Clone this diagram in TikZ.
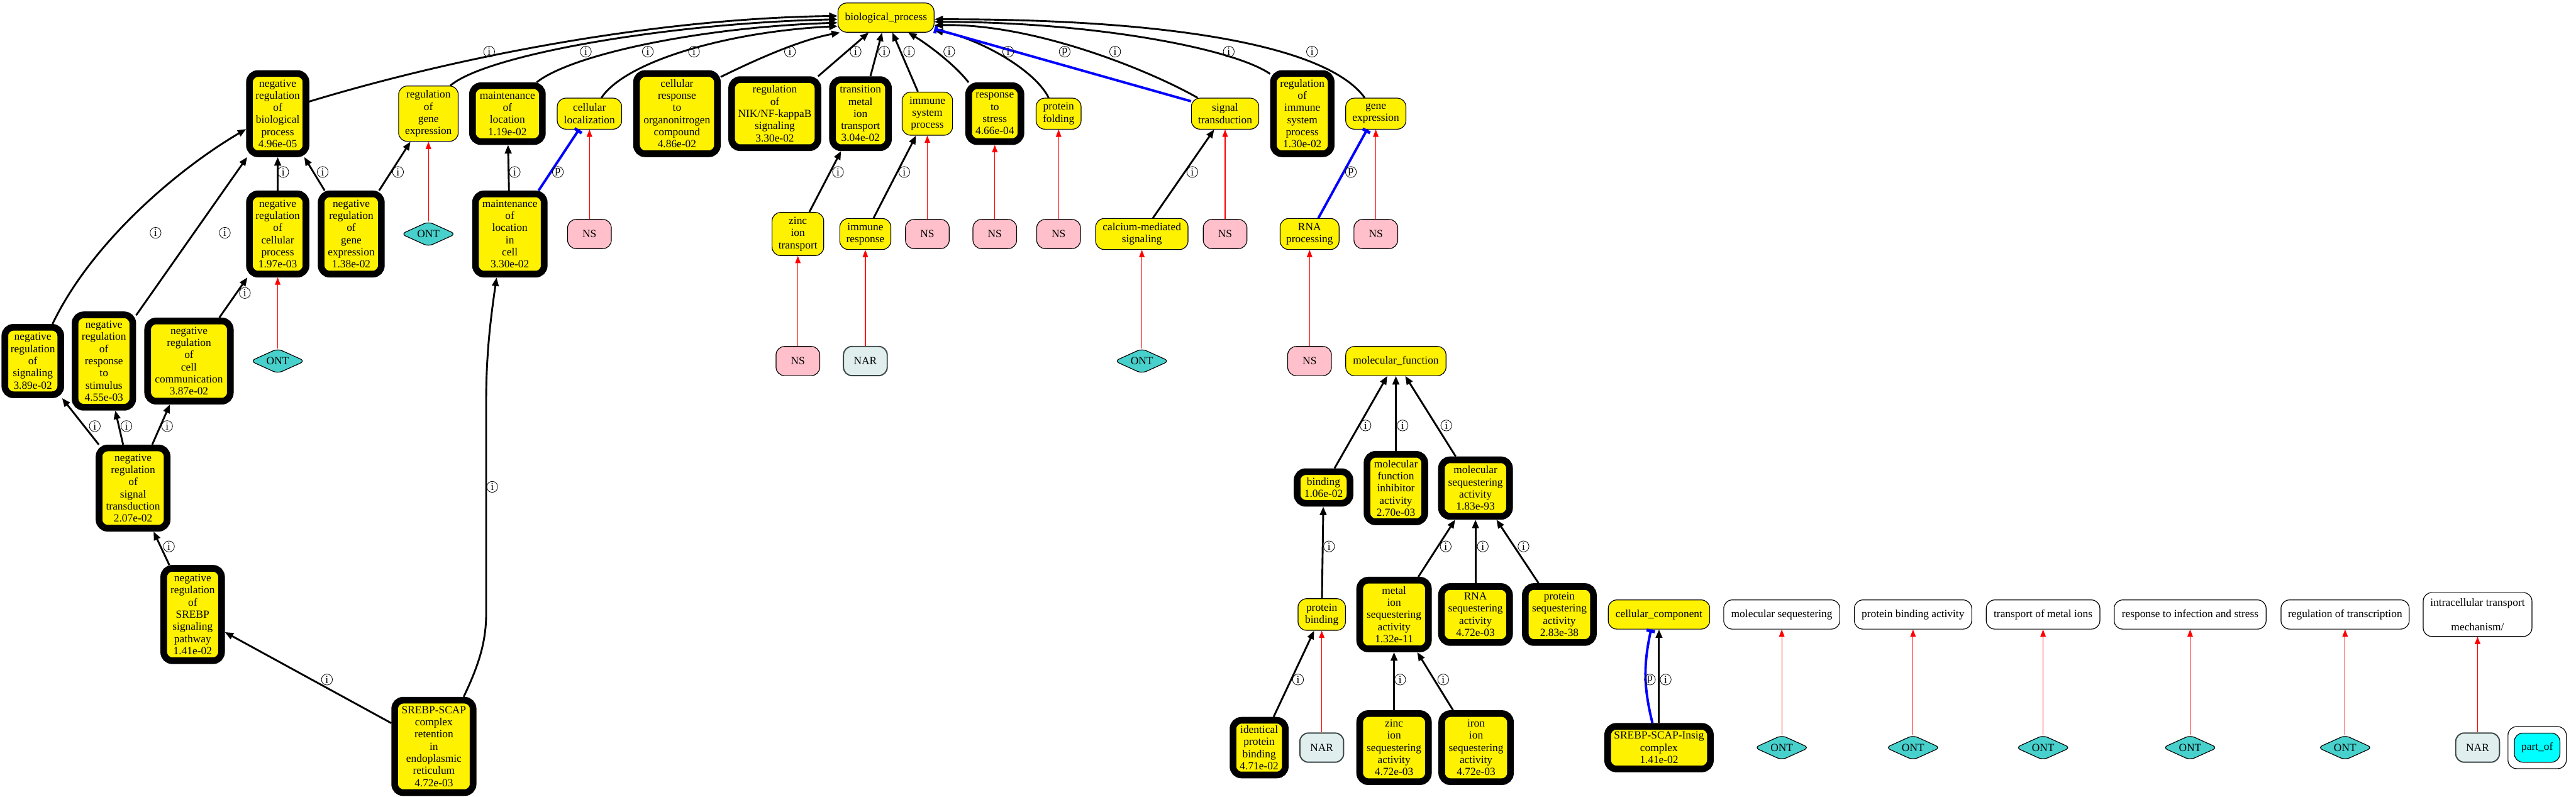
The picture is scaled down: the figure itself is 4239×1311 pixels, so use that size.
\documentclass[tikz,border=0pt]{standalone}
\usepackage{fontspec}
\setmainfont{Liberation Serif}
\usetikzlibrary{shapes.geometric,arrows.meta,calc}
\definecolor{ontc}{HTML}{48D1CC}
\definecolor{nsc}{HTML}{FFC0CB}
\definecolor{narc}{HTML}{E0EEEE}
\definecolor{narb}{HTML}{3C4646}
\definecolor{legc}{HTML}{00FFFF}
\begin{document}
\begin{tikzpicture}[x=0.5pt,y=-0.5pt,
  base/.style={rectangle, rounded corners=7pt, align=center, inner sep=1pt, font=\fontsize{9}{10}\selectfont},
  term/.style={base, draw=black, fill=yellow, line width=0.6pt},
  sig/.style={base, draw=black, fill=yellow, line width=5.5pt},
  sz/.style 2 args={minimum width=#1*0.5pt, minimum height=#2*0.5pt},
  nsbox/.style={base, draw=black, fill=nsc, line width=0.6pt, minimum width=36pt, minimum height=24pt},
  narbox/.style={base, draw=narb, fill=narc, line width=1pt, minimum width=36pt, minimum height=24pt},
  ontbox/.style={diamond, shape aspect=2.2, rounded corners=4pt, draw=black, fill=ontc, line width=0.6pt, inner sep=0pt, minimum width=45pt, minimum height=20.5pt, font=\fontsize{9}{10}\selectfont},
  legbox/.style={base, draw=black, fill=white, line width=0.6pt},
  isa/.style={draw=black, line width=1.5pt, -{Triangle[length=7pt,width=5.5pt]}},
  partof/.style={draw=blue, line width=2pt, -{Rectangle[length=2.5pt,width=7pt]}},
  ann/.style={draw=red, line width=0.6pt, -{Triangle[length=6pt,width=4.5pt]}},
  lab/.style={circle, draw=black, line width=0.4pt, inner sep=0pt, minimum size=9pt, font=\fontsize{9}{9}\selectfont}
]
\useasboundingbox (0,0) rectangle (4239,1311);

% ---------- row 0
\node[term, sz={158}{48}] (bp) at (1458,29) {biological\_process};

% ---------- row 1
\node[sig, sz={93}{132}] (nrbp) at (457,187) {negative\\regulation\\of\\biological\\process\\4.96e-05};
\node[term, sz={98}{91}] (rge) at (705,187) {regulation\\of\\gene\\expression};
\node[sig, sz={115}{92}] (ml) at (835,187) {maintenance\\of\\location\\1.19e-02};
\node[term, sz={106}{51}] (cl) at (970,187) {cellular\\localization};
\node[sig, sz={133}{132}] (cro) at (1114,187) {cellular\\response\\to\\organonitrogen\\compound\\4.86e-02};
\node[sig, sz={142}{112}] (nik) at (1275,187) {regulation\\of\\NIK/NF-kappaB\\signaling\\3.30e-02};
\node[sig, sz={92}{112}] (tmit) at (1416,187) {transition\\metal\\ion\\transport\\3.04e-02};
\node[term, sz={83}{71}] (isp) at (1526,187) {immune\\system\\process};
\node[sig, sz={86}{92}] (rs) at (1637,187) {response\\to\\stress\\4.66e-04};
\node[term, sz={74}{51}] (pf) at (1742,187) {protein\\folding};
\node[term, sz={111}{51}] (st) at (2016,187) {signal\\transduction};
\node[sig, sz={95}{132}] (risp) at (2143,187) {regulation\\of\\immune\\system\\process\\1.30e-02};
\node[term, sz={99}{51}] (ge) at (2264,187) {gene\\expression};

% ---------- row 2
\node[sig, sz={93}{132}] (nrcp) at (457,385) {negative\\regulation\\of\\cellular\\process\\1.97e-03};
\node[sig, sz={99}{132}] (nrge) at (578,385) {negative\\regulation\\of\\gene\\expression\\1.38e-02};
\node[ontbox] (ont1) at (705,385) {ONT};
\node[sig, sz={113}{132}] (mlc) at (839,385) {maintenance\\of\\location\\in\\cell\\3.30e-02};
\node[nsbox] (ns1) at (970,385) {NS};
\node[term, sz={85}{71}] (zit) at (1313,385) {zinc\\ion\\transport};
\node[term, sz={84}{51}] (ir) at (1424,385) {immune\\response};
\node[nsbox] (ns2) at (1526,385) {NS};
\node[nsbox] (ns3) at (1637,385) {NS};
\node[nsbox] (ns4) at (1742,385) {NS};
\node[term, sz={152}{51}] (cms) at (1879,385) {calcium-mediated\\signaling};
\node[nsbox] (ns5) at (2016,385) {NS};
\node[term, sz={97}{51}] (rnap) at (2155,385) {RNA\\processing};
\node[nsbox] (ns6) at (2264,385) {NS};

% ---------- row 3
\node[sig, sz={92}{111}] (nrs) at (54,594) {negative\\regulation\\of\\signaling\\3.89e-02};
\node[sig, sz={95}{152}] (nrrs) at (171,594) {negative\\regulation\\of\\response\\to\\stimulus\\4.55e-03};
\node[sig, sz={136}{132}] (nrcc) at (311,594) {negative\\regulation\\of\\cell\\communication\\3.87e-02};
\node[ontbox] (ont2) at (457,594) {ONT};
\node[nsbox] (ns7) at (1313,594) {NS};
\node[narbox] (nar1) at (1424,594) {NAR};
\node[ontbox] (ont3) at (1879,594) {ONT};
\node[nsbox] (ns8) at (2155,594) {NS};
\node[term, sz={165}{48}] (mf) at (2297,594) {molecular\_function};

% ---------- row 4
\node[sig, sz={112}{132}] (nrst) at (219,803) {negative\\regulation\\of\\signal\\transduction\\2.07e-02};
\node[sig, sz={87}{52}] (bind) at (2178,802) {binding\\1.06e-02};
\node[sig, sz={95}{111}] (mfia) at (2297,803) {molecular\\function\\inhibitor\\activity\\2.70e-03};
\node[sig, sz={112}{93}] (msa) at (2428,803) {molecular\\sequestering\\activity\\1.83e-93};

% ---------- row 5
\node[sig, sz={95}{152}] (nrsp) at (317,1011) {negative\\regulation\\of\\SREBP\\signaling\\pathway\\1.41e-02};
\node[term, sz={78}{52}] (pb) at (2175,1011) {protein\\binding};
\node[sig, sz={113}{113}] (misa) at (2294,1011) {metal\\ion\\sequestering\\activity\\1.32e-11};
\node[sig, sz={112}{92}] (rsa) at (2428,1011) {RNA\\sequestering\\activity\\4.72e-03};
\node[sig, sz={112}{92}] (psa) at (2566,1011) {protein\\sequestering\\activity\\2.83e-38};
\node[term, sz={167}{48}] (cc) at (2730,1011) {cellular\_component};
\node[legbox, sz={191}{48}] (l1) at (2932,1011) {molecular sequestering};
\node[legbox, sz={193}{48}] (l2) at (3148,1011) {protein binding activity};
\node[legbox, sz={187}{48}] (l3) at (3362,1011) {transport of metal ions};
\node[legbox, sz={250}{48}] (l4) at (3604,1011) {response to infection and stress};
\node[legbox, sz={211}{48}] (l5) at (3859,1011) {regulation of transcription};
\node[legbox, sz={179}{72}] (l6) at (4077,1011) {intracellular transport\\[10pt]mechanism/};

% ---------- row 6
\node[sig, sz={129}{152}] (srer) at (714,1228) {SREBP-SCAP\\complex\\retention\\in\\endoplasmic\\reticulum\\4.72e-03};
\node[sig, sz={86}{90}] (ipb) at (2072,1230) {identical\\protein\\binding\\4.71e-02};
\node[narbox] (nar2) at (2175,1230) {NAR};
\node[sig, sz={113}{112}] (zisa) at (2294,1230) {zinc\\ion\\sequestering\\activity\\4.72e-03};
\node[sig, sz={113}{112}] (iisa) at (2429,1230) {iron\\ion\\sequestering\\activity\\4.72e-03};
\node[sig, sz={169}{70}] (ssic) at (2730,1230) {SREBP-SCAP-Insig\\complex\\1.41e-02};
\node[ontbox] (ont4) at (2932,1230) {ONT};
\node[ontbox] (ont5) at (3148,1230) {ONT};
\node[ontbox] (ont6) at (3362,1230) {ONT};
\node[ontbox] (ont7) at (3604,1230) {ONT};
\node[ontbox] (ont8) at (3859,1230) {ONT};
\node[narbox] (nar3) at (4077,1230) {NAR};
\node[legbox, sz={96}{69}] (leg) at (4175,1230) {};
\node[base, draw=black, fill=legc, line width=0.6pt, sz={75}{48}] (legp) at (4175,1230) {part\_of};

% ---------- edges to biological_process
\draw[isa] (nrbp.21) .. controls (780,85) and (1100,30) .. (bp.178);
\draw[isa] (rge.52) .. controls (800,90) and (1100,38) .. (bp.182);
\draw[isa] (ml.47) .. controls (940,90) and (1150,45) .. (bp.186);
\draw[isa] (cl.53) .. controls (1030,100) and (1200,52) .. (bp.190);
\draw[isa] (cro.40) .. controls (1250,95) and (1320,65) .. (bp.198);
\draw[isa] (nik) -- (bp);
\draw[isa] (tmit) -- (bp);
\draw[isa] (isp) -- (bp);
\draw[isa] (rs.130) .. controls (1570,105) and (1525,72) .. (bp.326);
\draw[isa] (pf.122) .. controls (1700,110) and (1600,60) .. (bp.345);
\draw[partof] (st.160) -- (bp.347);
\draw[isa] (st.150) .. controls (1890,115) and (1700,38) .. (bp.351);
\draw[isa] (risp.129) .. controls (2030,80) and (1800,36) .. (bp.355);
\draw[isa] (ge.125) .. controls (2180,70) and (1900,31) .. (bp.358);

% ---------- left group
\draw[isa] (nrcp) -- (nrbp);
\draw[isa] (nrge) -- (nrbp);
\draw[isa] (nrge) -- (rge);
\draw[isa] (nrcc) -- (nrcp);
\draw[isa] (nrs.62) .. controls (150,400) and (290,280) .. (nrbp.206);
\draw[isa] (nrrs) -- (nrbp);
\draw[isa] (mlc) -- (ml);
\draw[partof] (mlc) -- (cl);
\draw[isa] (nrst) -- (nrs);
\draw[isa] (nrst) -- (nrrs);
\draw[isa] (nrst) -- (nrcc);
\draw[isa] (nrsp) -- (nrst);
\draw[isa] (srer) -- (nrsp);
\draw[isa] (srer.59) .. controls (785,1100) and (800,1060) .. (800,1010) -- (800,660) .. controls (800,580) and (808,520) .. (mlc.253);
\draw[ann] (ns1) -- (cl);
\draw[ann] (ont1) -- (rge);
\draw[ann] (ont2) -- (nrcp);

% ---------- middle group
\draw[isa] (zit) -- (tmit);
\draw[isa] (ir) -- (isp);
\draw[isa] (cms) -- (st);
\draw[partof] (rnap) -- (ge);
\draw[ann] (ns2) -- (isp);
\draw[ann] (ns3) -- (rs);
\draw[ann] (ns4) -- (pf);
\draw[ann] (ns5) -- (st);
\draw[ann] (ns6) -- (ge);
\draw[ann] (ns7) -- (zit);
\draw[ann] (nar1) -- (ir);
\draw[ann] (ont3) -- (cms);
\draw[ann] (ns8) -- (rnap);

% ---------- molecular function group
\draw[isa] (bind) -- (mf);
\draw[isa] (mfia) -- (mf);
\draw[isa] (msa) -- (mf);
\draw[isa] (pb) -- (bind);
\draw[isa] (misa) -- (msa);
\draw[isa] (rsa) -- (msa);
\draw[isa] (psa) -- (msa);
\draw[isa] (ipb) -- (pb);
\draw[ann] (nar2) -- (pb);
\draw[isa] (zisa) -- (misa);
\draw[isa] (iisa) -- (misa);
\draw[isa] (ssic) -- (cc);
\draw[partof] (ssic.105) to[bend left=13] (cc.242);

% ---------- legend annotations
\draw[ann] (ont4) -- (l1);
\draw[ann] (ont5) -- (l2);
\draw[ann] (ont6) -- (l3);
\draw[ann] (ont7) -- (l4);
\draw[ann] (ont8) -- (l5);
\draw[ann, line width=1pt] (nar3) -- (l6);

% ---------- edge labels
\node[lab] (a1) at (805,85) {i};
\node[lab] (a2) at (964,85) {i};
\node[lab] (a3) at (1066,85) {i};
\node[lab] (a4) at (1142,85) {i};
\node[lab] (a5) at (1300,85) {i};
\node[lab] (a6) at (1408,85) {i};
\node[lab] (a7) at (1455,85) {i};
\node[lab] (a8) at (1496,85) {i};
\node[lab] (a9) at (1562,85) {i};
\node[lab] (a10) at (1659,85) {i};
\node[lab] (a11) at (1752,85) {p};
\node[lab] (a12) at (1835,85) {i};
\node[lab] (a13) at (2022,85) {i};
\node[lab] (a14) at (2159,85) {i};
\node[lab] (b1) at (466,283) {i};
\node[lab] (b2) at (531,283) {i};
\node[lab] (b3) at (655,283) {i};
\node[lab] (b4) at (847,283) {i};
\node[lab] (b5) at (918,283) {p};
\node[lab] (b6) at (1379,283) {i};
\node[lab] (b7) at (1488,283) {i};
\node[lab] (b8) at (1962,283) {i};
\node[lab] (b9) at (2223,283) {p};
\node[lab] (c1) at (256,383) {i};
\node[lab] (c2) at (370,383) {i};
\node[lab] (c3) at (403,482) {i};
\node[lab] (d1) at (156,701) {i};
\node[lab] (d2) at (208,701) {i};
\node[lab] (d3) at (275,701) {i};
\node[lab] (d4) at (278,899) {i};
\node[lab] (d5) at (538,1118) {i};
\node[lab] (d6) at (810,801) {i};
\node[lab] (e1) at (2247,700) {i};
\node[lab] (e2) at (2308,700) {i};
\node[lab] (e3) at (2380,700) {i};
\node[lab] (e4) at (2187,899) {i};
\node[lab] (e5) at (2379,899) {i};
\node[lab] (e6) at (2440,899) {i};
\node[lab] (e7) at (2507,899) {i};
\node[lab] (e8) at (2136,1118) {i};
\node[lab] (e9) at (2304,1118) {i};
\node[lab] (e10) at (2375,1118) {i};
\node[lab] (e11) at (2715,1118) {p};
\node[lab] (e12) at (2741,1118) {i};
\end{tikzpicture}
\end{document}
